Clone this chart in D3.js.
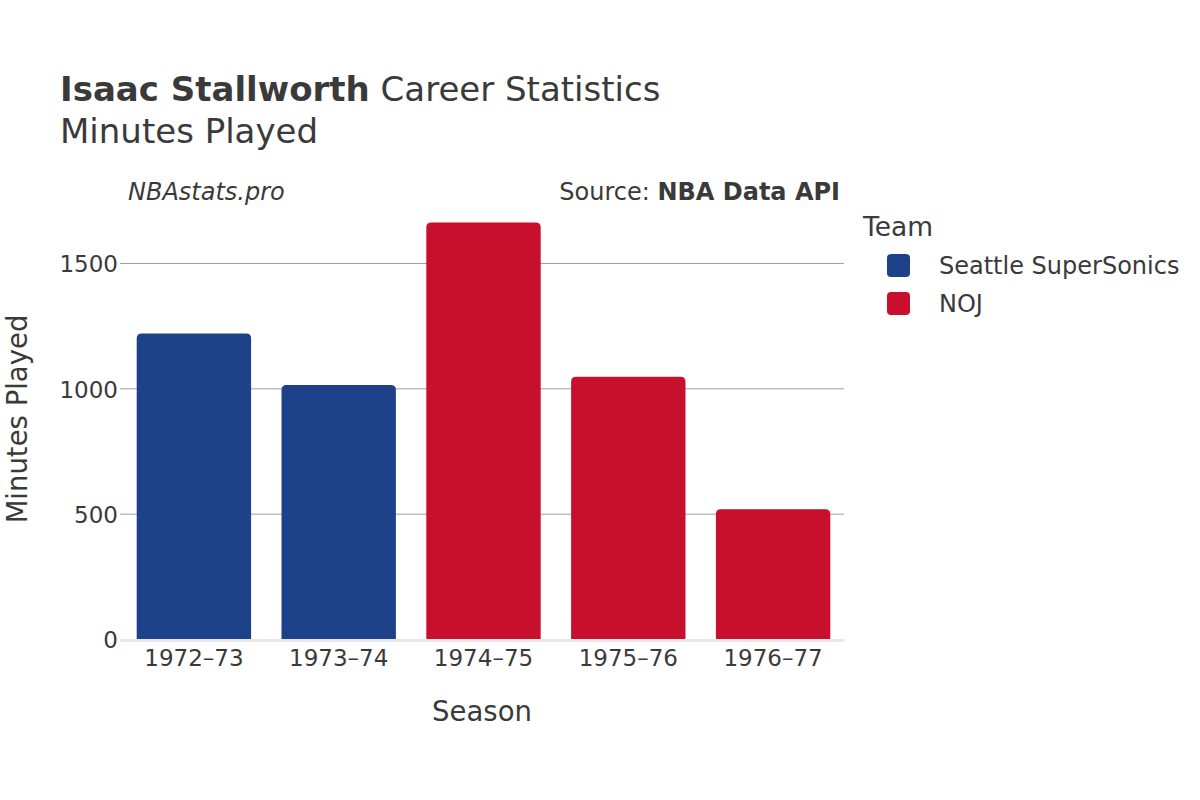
<!DOCTYPE html>
<html>
<head>
<meta charset="utf-8">
<script src="https://cdn.jsdelivr.net/npm/d3@7"></script>
<style>
  body { margin: 0; background: #fff; }
  svg { font-family: "DejaVu Sans", sans-serif; }
</style>
</head>
<body>
<svg id="chart" width="1200" height="800"></svg>
<script>
const seasons = ["1972–73", "1973–74", "1974–75", "1975–76", "1976–77"];
const minutes = [1221, 1015, 1664, 1048, 520];
const teams = ["SEA", "SEA", "NOJ", "NOJ", "NOJ"];
const teamNames = ["Seattle SuperSonics", "NOJ"];
const teamKeys = ["SEA", "NOJ"];
const teamColors = ["#1D428A", "#C8102E"];
const yTicks = [0, 500, 1000, 1500];

const textColor = "#3a3a3a";
const svg = d3.select("#chart");
const margin = { left: 120, right: 844, top: 263.5, bottom: 639.5 };

const x = d3.scaleBand().domain(seasons).range([margin.left + 1.5, margin.right + 1.5]).paddingInner(0.21).paddingOuter(0.105);
const y = d3.scaleLinear().domain([0, 1500]).range([margin.bottom, margin.top]);
const color = d3.scaleOrdinal().domain(teamKeys).range(teamColors);

// gridlines
svg.append("g").selectAll("line").data(yTicks.filter(d => d > 0)).join("line")
  .attr("x1", margin.left).attr("x2", margin.right)
  .attr("y1", d => y(d)).attr("y2", d => y(d))
  .attr("stroke", "#a0a0a0").attr("stroke-width", 1);

// bars with rounded tops
const r = 5;
function barPath(x0, w, yTop, yBase) {
  const rr = Math.min(r, (yBase - yTop));
  return `M${x0},${yBase} L${x0},${yTop + rr} Q${x0},${yTop} ${x0 + rr},${yTop} L${x0 + w - rr},${yTop} Q${x0 + w},${yTop} ${x0 + w},${yTop + rr} L${x0 + w},${yBase} Z`;
}
svg.append("g").selectAll("path").data(seasons).join("path")
  .attr("d", (s, i) => barPath(x(s), x.bandwidth(), y(minutes[i]), y(0)))
  .attr("fill", (s, i) => color(teams[i]));

// zero line
svg.append("line").attr("x1", margin.left).attr("x2", margin.right)
  .attr("y1", y(0) + 1).attr("y2", y(0) + 1)
  .attr("stroke", "#e8e8e8").attr("stroke-width", 3);

// y axis
const yAxis = d3.axisLeft(y).tickValues(yTicks).tickSize(0).tickPadding(0).tickFormat(d3.format("d"));
const gy = svg.append("g").attr("transform", `translate(${margin.left - 2},0)`).call(yAxis);
gy.select(".domain").remove();
gy.selectAll("text").attr("font-size", 23).attr("fill", textColor).attr("font-family", "DejaVu Sans").attr("dy", "0.36em");

// x axis
const xAxis = d3.axisBottom(x).tickSize(0).tickPadding(0);
const gx = svg.append("g").attr("transform", `translate(0,${y(0)})`).call(xAxis);
gx.select(".domain").remove();
gx.selectAll("text").attr("font-size", 23).attr("fill", textColor).attr("font-family", "DejaVu Sans")
  .attr("dy", null).attr("y", 26);

// axis titles
svg.append("text").attr("x", 482).attr("y", 721).attr("text-anchor", "middle")
  .attr("font-size", 27.5).attr("fill", textColor).text("Season");
svg.append("text").attr("transform", "translate(27,419) rotate(-90)").attr("text-anchor", "middle")
  .attr("font-size", 27.5).attr("fill", textColor).text("Minutes Played");

// title
const t = svg.append("text").attr("x", 60).attr("y", 101).attr("font-size", 34).attr("fill", textColor);
t.append("tspan").attr("font-weight", "bold").text("Isaac Stallworth");
t.append("tspan").text(" Career Statistics");
svg.append("text").attr("x", 60).attr("y", 143).attr("font-size", 34).attr("fill", textColor).text("Minutes Played");

// annotations
svg.append("text").attr("x", 128).attr("y", 200).attr("font-size", 24).attr("font-style", "italic")
  .attr("fill", textColor).text("NBAstats.pro");
const src = svg.append("text").attr("x", 840).attr("y", 200).attr("text-anchor", "end")
  .attr("font-size", 24).attr("fill", textColor);
src.append("tspan").text("Source: ");
src.append("tspan").attr("font-weight", "bold").text("NBA Data API");

// legend
svg.append("text").attr("x", 863).attr("y", 236).attr("font-size", 26.5).attr("fill", textColor).text("Team");
const lg = svg.append("g").selectAll("g").data(teamKeys).join("g")
  .attr("transform", (d, i) => `translate(887,${254 + i * 38})`);
lg.append("rect").attr("width", 23).attr("height", 23).attr("rx", 4).attr("fill", d => color(d));
lg.append("text").attr("x", 52).attr("y", 20).attr("font-size", 24).attr("fill", textColor)
  .text((d, i) => teamNames[i]);
</script>
</body>
</html>
